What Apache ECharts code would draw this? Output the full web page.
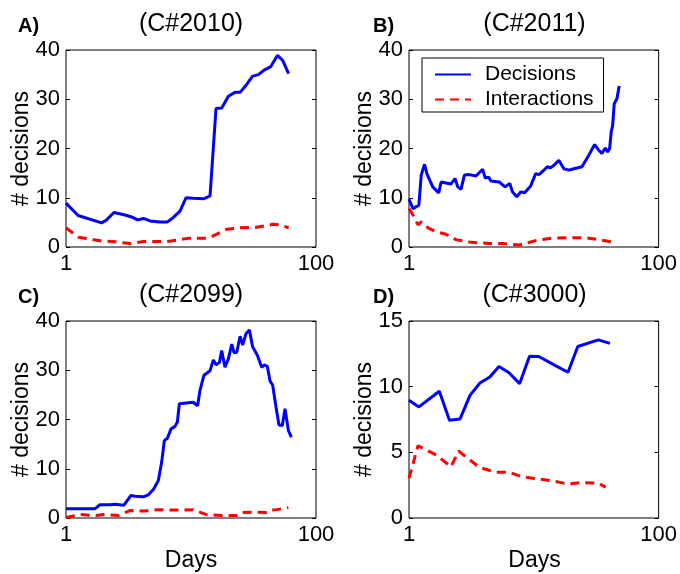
<!DOCTYPE html>
<html>
<head>
<meta charset="utf-8">
<script src="https://cdn.jsdelivr.net/npm/echarts@6/dist/echarts.min.js"></script>
<style>
  html, body { margin: 0; padding: 0; background: #fff; }
  #chart { width: 680px; height: 574px; }
</style>
</head>
<body>
<div id="chart"></div>
<script>
  // [day, value] pairs
  const decisionsA = [[1, 8.9], [1.25, 6.4], [1.93, 4.9], [2.11, 5.5], [2.42, 7.0], [2.97, 6.5], [3.35, 6.1],
    [3.74, 5.5], [4.16, 5.8], [4.7, 5.3], [5.65, 5.1], [6.47, 5.1], [7.22, 6.0], [8.17, 7.3], [9.12, 10.0],
    [10.4, 9.9], [12.7, 9.8], [14.2, 10.4], [15.85, 28.1], [17.6, 28.2], [19.9, 30.6], [22.5, 31.4],
    [24.7, 31.4], [27.9, 33.0], [31.1, 34.7], [34.6, 35.0], [38.4, 35.9], [43.4, 36.6], [49.1, 38.9],
    [54.1, 37.9], [60.4, 35.2]];
  const interactionsA = [[1, 3.9], [1.25, 2.0], [1.93, 1.2], [2.37, 1.1], [3.29, 0.7], [4.16, 1.1], [6.37, 1.1],
    [9.8, 1.8], [13.0, 1.8], [14.6, 2.1], [19.3, 3.6], [24.7, 3.9], [33.6, 4.0], [45.5, 4.6], [51.4, 4.5],
    [60.4, 3.9]];

  const decisionsB = [[1, 9.7], [1.076, 7.8], [1.2, 8.5], [1.253, 14.6], [1.333, 16.8], [1.39, 14.9], [1.55, 12.2],
    [1.73, 11.0], [1.81, 13.2], [1.98, 13.0], [2.17, 12.8], [2.34, 13.9], [2.46, 12.2], [2.61, 11.7],
    [2.78, 14.6], [3.04, 14.7], [3.44, 14.4], [3.89, 15.8], [4.08, 14.0], [4.34, 14.2], [4.53, 13.4],
    [5.28, 13.2], [5.89, 12.2], [6.42, 12.9], [6.74, 11.2], [7.3, 10.2], [7.85, 11.2], [8.45, 11.0],
    [9.44, 12.4], [10.35, 14.9], [11.0, 14.7], [12.05, 15.6], [12.8, 16.3], [13.6, 16.1], [14.5, 16.6],
    [15.85, 17.6], [17.4, 15.9], [19.1, 15.6], [20.9, 15.9], [24.3, 16.3], [27.5, 18.6], [30.7, 20.8],
    [33.0, 19.7], [35.1, 19.0], [37.4, 20.1], [39.0, 19.3], [40.5, 20.0], [41.7, 23.4], [42.8, 24.7],
    [44.1, 29.1], [46.3, 30.1], [48.3, 32.7]];
  const interactionsB = [[1, 7.8], [1.076, 6.5], [1.18, 4.5], [1.253, 5.1], [1.42, 3.9], [1.65, 3.1], [1.98, 2.6],
    [2.38, 1.5], [3.04, 1.0], [4.4, 0.7], [5.62, 0.7], [7.6, 0.4], [10.35, 1.3], [14.0, 1.8], [19.1, 1.9],
    [25.8, 1.9], [35.1, 1.4], [45.0, 0.9]];

  const decisionsC = [[1, 1.9], [1.71, 1.9], [1.87, 2.7], [2.25, 2.7], [2.47, 2.8], [2.91, 2.6], [3.31, 4.6],
    [3.56, 4.4], [4.16, 4.3], [4.56, 4.7], [5.0, 5.8], [5.48, 7.6], [5.83, 11.4], [6.12, 15.7], [6.47, 16.2],
    [6.92, 18.1], [7.45, 18.6], [7.78, 19.5], [8.07, 23.2], [10.4, 23.5], [11.3, 22.8], [11.8, 25.9],
    [12.7, 29.0], [14.2, 29.9], [15.1, 32.1], [15.85, 31.1], [16.9, 31.6], [17.6, 34.0], [18.7, 30.6],
    [19.9, 32.3], [21.2, 35.3], [22.1, 33.6], [23.2, 33.6], [24.7, 36.9], [25.9, 35.1], [27.5, 37.4],
    [29.3, 38.2], [31.1, 34.8], [34.0, 33.0], [36.8, 30.6], [38.6, 31.1], [40.8, 30.8], [42.9, 27.8],
    [45.0, 27.0], [47.9, 22.5], [50.6, 18.9], [53.8, 18.8], [56.5, 22.2], [60.1, 17.8], [63.5, 16.4]];
  const interactionsC = [[1, 0.1], [1.29, 0.7], [1.76, 0.5], [1.99, 0.7], [2.62, 0.5], [3.25, 1.5], [4.16, 1.4],
    [5.65, 1.7], [7.7, 1.6], [10.4, 1.7], [13.3, 0.7], [17.1, 0.5], [23.2, 0.5], [25.4, 1.1], [31.6, 1.2],
    [40.3, 1.1], [44.2, 1.6], [48.4, 1.7], [60.1, 2.1]];

  const decisionsD = [[1, 8.96], [1.2, 8.46], [1.75, 9.65], [2.11, 7.45], [2.56, 7.53], [3.08, 9.34], [3.7, 10.28],
    [4.44, 10.73], [5.26, 11.54], [6.33, 11.06], [7.69, 10.23], [9.24, 12.32], [10.96, 12.3], [14.9, 11.6],
    [18.8, 11.1], [22.5, 13.06], [32.9, 13.56], [40.7, 13.3]];
  const interactionsD = [[1, 3.03], [1.18, 5.5], [1.65, 4.8], [2.17, 3.9], [2.5, 5.1], [2.95, 4.55], [3.7, 3.84],
    [4.95, 3.48], [6.33, 3.48], [8.07, 3.13], [10.96, 2.98], [14.0, 2.83], [18.8, 2.58], [24.3, 2.7],
    [32.9, 2.65], [37.7, 2.35]];

  const panelTitles = ['(C#2010)', '(C#2011)', '(C#2099)', '(C#3000)'];
  const panelLetters = ['A)', 'B)', 'C)', 'D)'];
  const yMax = [40, 40, 40, 15];
  const yStep = [10, 10, 10, 5];
  const xTickLabels = [1, 100];

  const FONT = 'Liberation Sans, Arial, Helvetica, sans-serif';
  const grids = [
    { left: 66, top: 50, width: 250, height: 197 },
    { left: 409, top: 50, width: 251, height: 197 },
    { left: 66, top: 321, width: 250, height: 197 },
    { left: 409, top: 321, width: 251, height: 197 }
  ];
  const decisions = [decisionsA, decisionsB, decisionsC, decisionsD];
  const interactions = [interactionsA, interactionsB, interactionsC, interactionsD];

  let xAxes = [], yAxes = [], series = [], graphic = [];
  grids.forEach((g, i) => {
    g.show = true;
    g.borderColor = '#000';
    g.borderWidth = 1;
    g.backgroundColor = '#fff';
    const cx = g.left + g.width / 2;
    xAxes.push({
      type: 'log', logBase: 10, gridIndex: i, min: 1, max: 100,
      axisLine: { show: false }, axisTick: { show: false }, splitLine: { show: false },
      axisLabel: {
        margin: 6, color: '#000', fontSize: 22, fontFamily: FONT,
        formatter: v => xTickLabels.indexOf(Math.round(v)) >= 0 ? String(Math.round(v)) : ''
      }
    });
    yAxes.push({
      type: 'value', gridIndex: i, min: 0, max: yMax[i], interval: yStep[i], position: 'left',
      axisLine: { show: false }, splitLine: { show: false },
      axisTick: { show: true, inside: true, length: 4, lineStyle: { color: '#000' } },
      axisLabel: { margin: 6, color: '#000', fontSize: 22, fontFamily: FONT }
    });
    yAxes.push({
      type: 'value', gridIndex: i, min: 0, max: yMax[i], interval: yStep[i], position: 'right',
      axisLine: { show: false }, splitLine: { show: false },
      axisTick: { show: true, inside: true, length: 4, lineStyle: { color: '#000' } },
      axisLabel: { show: false }
    });
    series.push({
      name: 'Decisions', type: 'line', xAxisIndex: i, yAxisIndex: i * 2,
      data: decisions[i], symbol: 'none', z: 3,
      lineStyle: { color: '#0000ff', width: 3 }, itemStyle: { color: '#0000ff' }
    });
    series.push({
      name: 'Interactions', type: 'line', xAxisIndex: i, yAxisIndex: i * 2,
      data: interactions[i], symbol: 'none', z: 2,
      lineStyle: { color: '#ff0000', width: 3, type: [9, 6] }, itemStyle: { color: '#ff0000' }
    });
    graphic.push({
      type: 'text', x: cx, y: g.top - 26,
      style: { text: panelTitles[i], fontSize: 25, fontFamily: FONT, fill: '#000',
        textAlign: 'center', textVerticalAlign: 'middle' }
    });
    graphic.push({
      type: 'text', x: g.left - (i % 2 ? 36 : 48), y: g.top - 24,
      style: { text: panelLetters[i], fontSize: 20, fontWeight: 'bold', fontFamily: FONT, fill: '#000',
        textAlign: 'left', textVerticalAlign: 'middle' }
    });
    graphic.push({
      type: 'text', x: g.left - 44, y: g.top + g.height / 2, rotation: Math.PI / 2,
      style: { text: '# decisions', fontSize: 23, fontFamily: FONT, fill: '#000',
        textAlign: 'center', textVerticalAlign: 'middle' }
    });
    if (i >= 2) {
      graphic.push({
        type: 'text', x: cx, y: g.top + g.height + 43,
        style: { text: 'Days', fontSize: 23, fontFamily: FONT, fill: '#000',
          textAlign: 'center', textVerticalAlign: 'middle' }
      });
    }
  });

  const chart = echarts.init(document.getElementById('chart'));
  chart.setOption({
    animation: false,
    backgroundColor: '#fff',
    grid: grids,
    xAxis: xAxes,
    yAxis: yAxes,
    series: series,
    legend: {
      data: ['Decisions', 'Interactions'],
      orient: 'vertical', left: 422, top: 58,
      itemWidth: 36, itemHeight: 14, itemGap: 4,
      padding: [6, 10, 2, 12],
      borderColor: '#000', borderWidth: 1, backgroundColor: '#fff',
      itemStyle: { opacity: 0 },
      textStyle: { fontSize: 21, fontFamily: FONT, color: '#000', padding: [0, 0, 0, 9] }
    },
    graphic: graphic
  });
</script>
</body>
</html>
